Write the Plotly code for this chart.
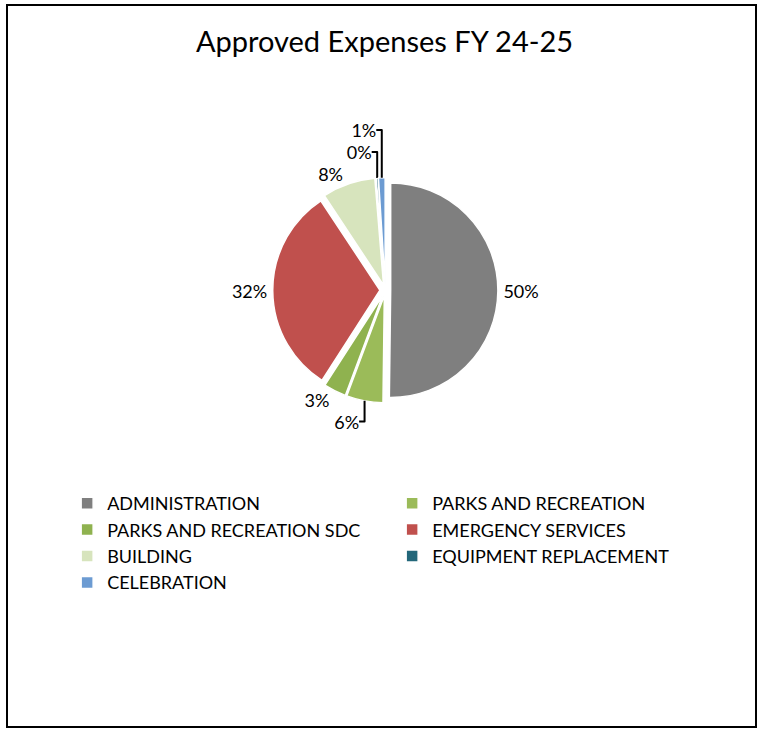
import plotly.graph_objects as go

categories = ["ADMINISTRATION", "PARKS AND RECREATION", "PARKS AND RECREATION SDC",
              "EMERGENCY SERVICES", "BUILDING", "EQUIPMENT REPLACEMENT", "CELEBRATION"]
values = [50.2, 5.5, 3.4, 31.6, 8.0, 0.3, 1.0]
colors = ["#7F7F7F", "#9BBB59", "#8FB24F", "#C0504D", "#D7E4BD", "#23677A", "#6C9BD2"]

FONT = "Lato"

fig = go.Figure(go.Pie(
    labels=categories,
    values=values,
    sort=False,
    direction="clockwise",
    rotation=0,
    pull=0.05,
    marker=dict(colors=colors, line=dict(color="white", width=1.5)),
    texttemplate="%{percent:.0%}",
    textposition="outside",
    textfont=dict(family=FONT, size=18, color="#000000"),
    domain=dict(x=[0.255, 0.755], y=[0.449, 0.757]),
    hoverinfo="label+percent",
))

fig.update_layout(
    width=763, height=731,
    margin=dict(l=0, r=0, t=0, b=0, autoexpand=False),
    paper_bgcolor="white",
    title=dict(text="Approved Expenses FY 24-25", x=0.504, xanchor="center",
               y=1 - 42 / 731, yanchor="middle", yref="container",
               font=dict(family=FONT, size=29, color="#000000")),
    legend=dict(orientation="h", x=0.088, xanchor="left", y=0.3365, yanchor="top",
                font=dict(family=FONT, size=18, color="#000000"),
                entrywidth=280, traceorder="normal"),
    shapes=[dict(type="rect", xref="paper", yref="paper",
                 x0=7 / 763, x1=756 / 763, y0=1 - 727 / 731, y1=1 - 5 / 731,
                 line=dict(color="black", width=2), fillcolor="rgba(0,0,0,0)")],
)

fig.write_html("out.html")
